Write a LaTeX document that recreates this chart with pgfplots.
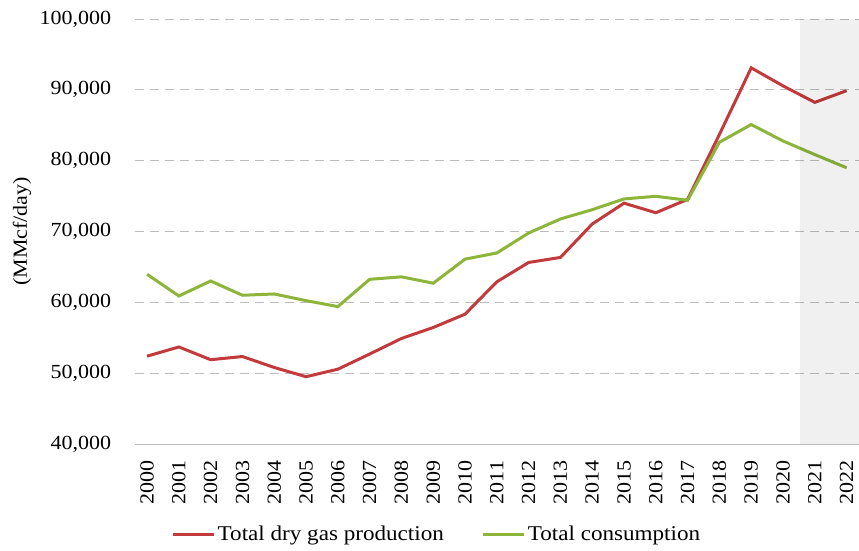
\documentclass[border=0pt]{standalone}
\usepackage{pgfplots}
\pgfplotsset{compat=1.18}
\usepackage{fontspec}
\setmainfont[FakeStretch=1.1]{Liberation Serif}
\definecolor{prodred}{HTML}{C23A3C}
\definecolor{consgreen}{HTML}{8CB53A}
\definecolor{gridgray}{HTML}{BDBDBD}
\begin{document}
\fontsize{20}{24}\selectfont
\begin{tikzpicture}
\begin{axis}[
  scale only axis,
  width=724pt, height=425pt,
  xmin=1999.62, xmax=2022.39,
  ymin=40000, ymax=100000,
  axis x line*=bottom,
  axis y line*=left,
  y axis line style={draw=none},
  x axis line style={draw=gridgray, line width=1pt},
  xtick={2000,...,2022},
  xticklabel style={rotate=90, anchor=east, xshift=-10pt, font=\fontsize{20}{24}\selectfont},
  xticklabel={\pgfmathparse{int(round(\tick))}\pgfmathresult},
  ytick={40000,50000,60000,70000,80000,90000,100000},
  yticklabels={{40,000},{50,000},{60,000},{70,000},{80,000},{90,000},{100,000}},
  yticklabel style={font=\fontsize{20}{24}\selectfont, xshift=-17pt},
  scaled y ticks=false,
  ymajorgrids,
  grid style={gridgray, dash pattern=on 9pt off 6pt, line width=1pt},
  major tick length=0pt,
  ylabel={(MMcf/day)},
  ylabel style={font=\fontsize{20}{24}\selectfont},
  every axis y label/.style={at={(rel axis cs:0,0.5)}, rotate=90, anchor=center, yshift=113pt},
  legend style={at={(rel axis cs:0.417,-0.214)}, anchor=center, draw=none, fill=none,
    legend columns=2, font=\fontsize{21}{24}\selectfont,
    /tikz/every even column/.append style={column sep=36pt},
    inner sep=0pt, nodes={inner sep=2pt}},
  legend image code/.code={\draw[#1, line width=3pt] (0pt,0pt) -- (41pt,0pt);},
  clip=false,
]
\addplot[prodred, line width=3pt] coordinates {
(2000,52400) (2001,53700) (2002,51900) (2003,52350) (2004,50800) (2005,49500)
(2006,50560) (2007,52700) (2008,54900) (2009,56450) (2010,58330) (2011,62900)
(2012,65630) (2013,66340) (2014,71060) (2015,74000) (2016,72650) (2017,74540)
(2018,83700) (2019,93100) (2020,90560) (2021,88230) (2022,89880)};
\addlegendentry{Total dry gas production}
\addplot[consgreen, line width=3pt] coordinates {
(2000,63960) (2001,60900) (2002,63010) (2003,61000) (2004,61180) (2005,60240)
(2006,59400) (2007,63250) (2008,63600) (2009,62700) (2010,66100) (2011,66970)
(2012,69790) (2013,71770) (2014,73080) (2015,74600) (2016,74970) (2017,74410)
(2018,82600) (2019,85100) (2020,82780) (2021,80860) (2022,79000)};
\addlegendentry{Total consumption}
\fill[black, opacity=0.06] (axis cs:2020.52,40000) rectangle (axis cs:2022.39,100000);
\end{axis}
\pgfresetboundingbox
\path (current axis.south west) ++(-135pt,-106pt) rectangle ++(859pt,550pt);
\end{tikzpicture}
\end{document}
